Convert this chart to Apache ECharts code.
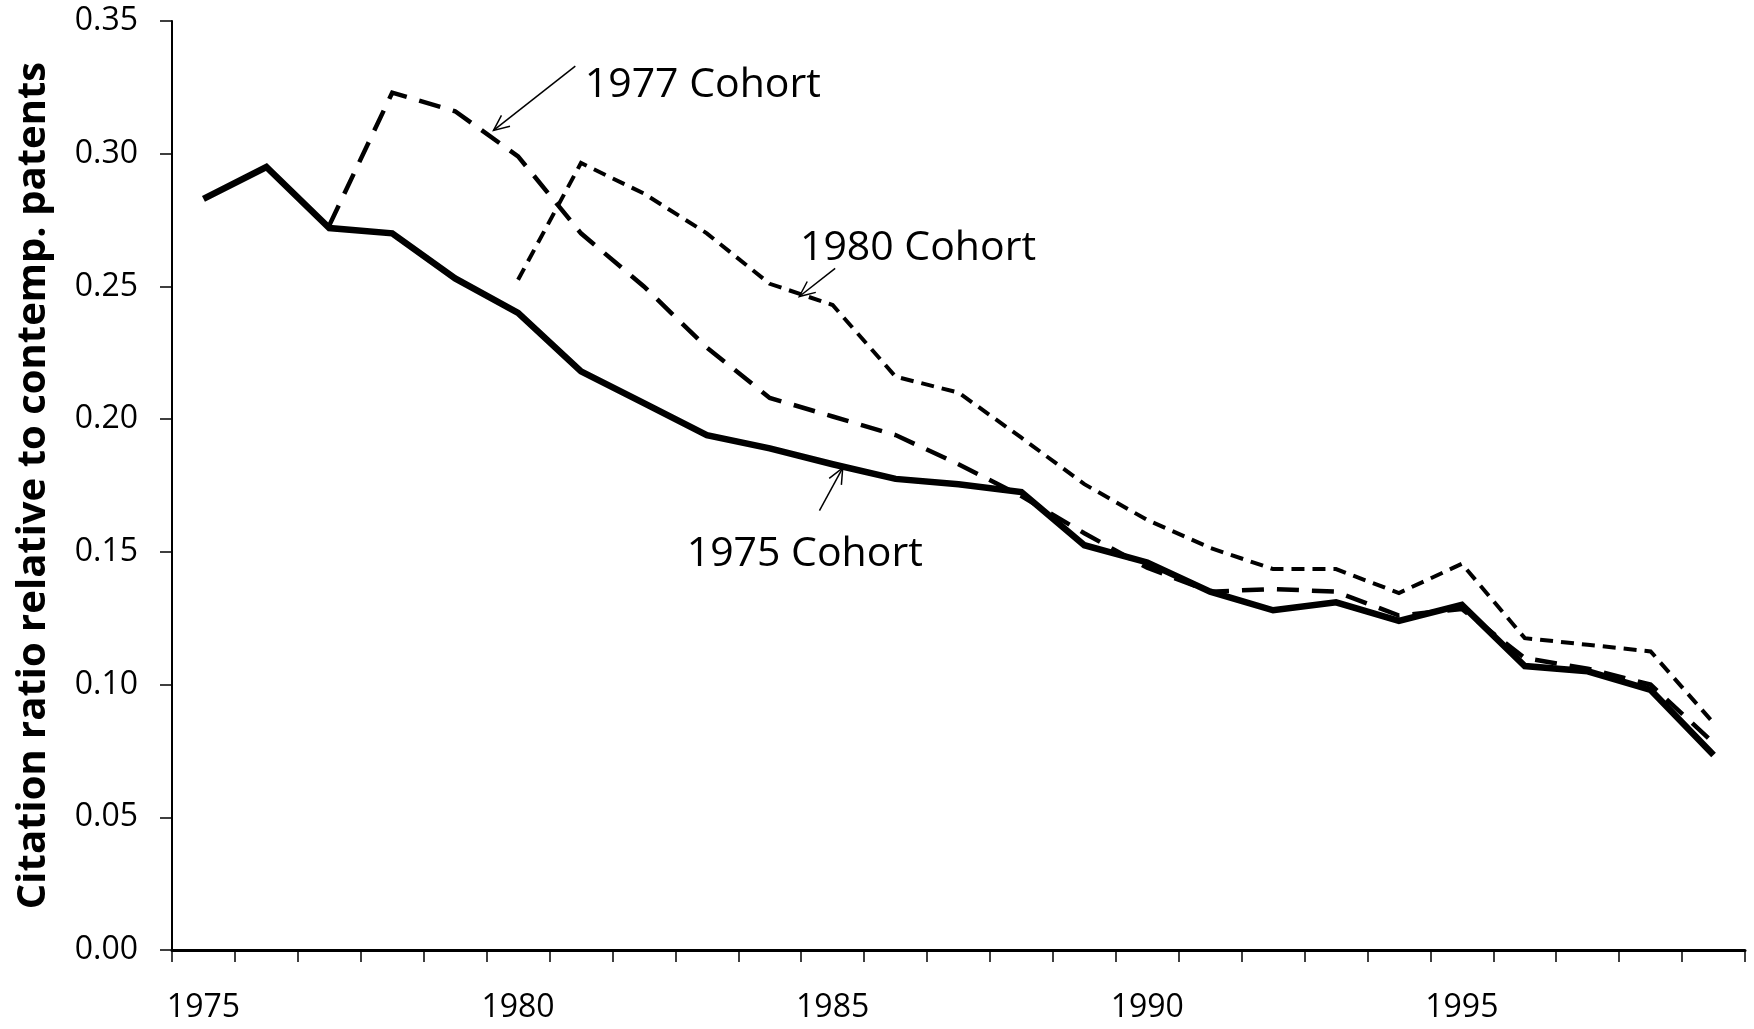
<!DOCTYPE html>
<html>
<head>
<meta charset="utf-8">
<script src="https://cdn.jsdelivr.net/npm/echarts@6/dist/echarts.min.js"></script>
<style>
html,body{margin:0;padding:0;background:#fff;}
#chart{width:1754px;height:1029px;}
</style>
</head>
<body>
<div id="chart"></div>
<script>
// ---- data ----
const years = ['1975','1976','1977','1978','1979','1980','1981','1982','1983','1984','1985','1986','1987','1988','1989','1990','1991','1992','1993','1994','1995','1996','1997','1998','1999'];
const cohort1975 = [0.283,0.295,0.272,0.270,0.253,0.240,0.218,0.206,0.194,0.189,0.183,0.1775,0.1755,0.1725,0.1525,0.146,0.135,0.128,0.131,0.124,0.130,0.107,0.105,0.098,0.0735];
const cohort1977 = [null,null,0.273,0.323,0.316,0.299,0.270,0.250,0.227,0.208,0.201,0.194,0.183,0.171,0.157,0.144,0.135,0.136,0.135,0.126,0.1285,0.110,0.106,0.100,0.078];
const cohort1980 = [null,null,null,null,null,0.2525,0.2965,0.285,0.270,0.251,0.243,0.216,0.210,0.193,0.1755,0.162,0.1515,0.1435,0.1435,0.1345,0.1455,0.1175,0.115,0.1125,0.0855];
const yTicks = ['0.00','0.05','0.10','0.15','0.20','0.25','0.30','0.35'];
const yTitle = 'Citation ratio relative to contemp. patents';

// annotations: label text, label anchor (year, value), arrow from -> to (year, value)
const annotations = [
  {text:'1977 Cohort', at:[1981.06,0.3259], from:[1980.91,0.3330], to:[1979.61,0.3088]},
  {text:'1980 Cohort', at:[1984.48,0.2645], from:[1985.04,0.2568], to:[1984.47,0.2462]},
  {text:'1975 Cohort', at:[1982.68,0.1490], from:[1984.79,0.1655], to:[1985.16,0.1816]}
];

const FONT = '"Open Sans", "Noto Sans", sans-serif';
const chart = echarts.init(document.getElementById('chart'), null, {renderer:'canvas'});

const option = {
  backgroundColor:'#ffffff',
  animation:false,
  grid:{left:172, right:9, top:21, bottom:79},
  xAxis:[{
    type:'category',
    data:years,
    boundaryGap:true,
    axisLine:{lineStyle:{color:'#000', width:3}},
    axisTick:{show:true, interval:0, length:12, inside:false, lineStyle:{color:'#000', width:1.5}},
    axisLabel:{interval:4, color:'#000', fontFamily:FONT, fontSize:32, margin:42},
    splitLine:{show:false}
  },{
    type:'value', min:1974.5, max:1999.5, show:false
  }],
  yAxis:{
    type:'value', min:0, max:0.35, interval:0.05,
    name:yTitle, nameLocation:'middle', nameRotate:90, nameGap:118,
    nameTextStyle:{color:'#000', fontFamily:'"Liberation Sans Narrow", "Open Sans", sans-serif', fontWeight:'bold', fontSize:40},
    axisLine:{show:true, lineStyle:{color:'#000', width:2}},
    axisTick:{show:true, length:12, lineStyle:{color:'#000', width:1.5}},
    axisLabel:{color:'#000', fontFamily:FONT, fontSize:32, margin:34,
      formatter:function(v){ return yTicks[Math.round(v/0.05)]; }},
    splitLine:{show:false}
  },
  series:[
    {name:'1975 Cohort', type:'line', data:cohort1975, symbol:'none', connectNulls:false,
     lineStyle:{color:'#000', width:6.5, join:'miter'}},
    {name:'1977 Cohort', type:'line', data:cohort1977, symbol:'none',
     lineStyle:{color:'#000', width:4.5, type:[22,13], cap:'butt', join:'miter'}},
    {name:'1980 Cohort', type:'line', data:cohort1980, symbol:'none',
     lineStyle:{color:'#000', width:4, type:[13,8], cap:'butt', join:'miter'}}
  ]
};
chart.setOption(option);

function px(p){ return chart.convertToPixel({xAxisIndex:1, yAxisIndex:0}, p); }
const graphics = [];
annotations.forEach(function(a){
  const s = px(a.from), e = px(a.to), t = px(a.at);
  graphics.push({type:'line', shape:{x1:s[0], y1:s[1], x2:e[0], y2:e[1]}, style:{stroke:'#000', lineWidth:1.5}, z:100});
  const ang = Math.atan2(s[1]-e[1], s[0]-e[0]);
  const L = 17, h = 0.42;
  const w1 = [e[0]+L*Math.cos(ang+h), e[1]+L*Math.sin(ang+h)];
  const w2 = [e[0]+L*Math.cos(ang-h), e[1]+L*Math.sin(ang-h)];
  graphics.push({type:'polyline', shape:{points:[w1, e, w2]}, style:{stroke:'#000', lineWidth:1.5, fill:null}, z:100});
  graphics.push({type:'text', x:t[0], y:t[1], style:{text:a.text, font:'41px ' + FONT, fill:'#000', textAlign:'left', textVerticalAlign:'middle'}, z:100});
});
chart.setOption({graphic:graphics});
</script>
</body>
</html>
